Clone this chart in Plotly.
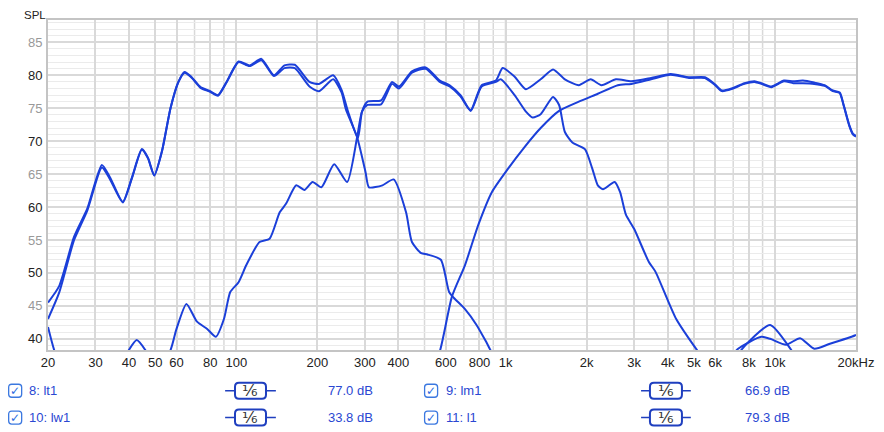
import plotly.graph_objects as go

# page body adds an 8px offset, so the figure is 8px smaller and shifted back
OFF = 8
W, H = 884 - OFF, 432 - OFF
L, R, T, B = 48 - OFF, 24, 18 - OFF, 82

# total response (l1)
l1_f = [20, 22, 25, 28, 31.7, 34, 37.9, 41, 44.6, 47, 49.6, 53, 57, 61, 64.3, 68, 73.7, 80, 85.5, 92,
        102, 112, 124, 138, 151, 165, 187, 203, 229, 246, 260, 283, 293, 307, 345, 379, 402, 449, 505,
        570, 620, 680, 742, 815, 920, 975, 1080, 1190, 1350, 1500, 1660, 1870, 2070, 2270, 2570, 2930,
        3470, 4100, 4800, 5500, 6000, 6350, 6900, 7700, 8400, 8900, 9700, 10800, 11700, 12700, 14000,
        15300, 16400, 17400, 18000, 18900, 19500, 20000]
l1_db = [45.5, 48, 55.5, 59.8, 66.4, 64.5, 60.8, 64.5, 68.8, 67.5, 64.8, 68.5, 75, 79, 80.5, 79.8, 78.2, 77.6, 77.0, 79,
         82.1, 81.5, 82.5, 80, 81.5, 81.6, 79, 78.7, 80, 77.8, 74.5, 70.5, 74.5, 76, 76.2, 79, 78.3, 80.6, 81.2,
         79.2, 78.5, 77, 74.7, 78.5, 79.2, 81.1, 79.8, 77.9, 79.4, 80.9, 79.4, 78.5, 79.4, 78.5, 79.4, 79.1,
         79.6, 80.2, 79.7, 79.7, 78.6, 77.7, 78, 78.8, 79.1, 78.8, 78.3, 79.2, 79.1, 79.2, 78.9,
         78.5, 77.7, 77.4, 75.5, 72.4, 71.1, 70.8]

# woofer (lw1)
lw1_f = [20, 22, 25, 28, 31.7, 34, 37.9, 41, 44.6, 47, 49.6, 53, 57, 61, 64.3, 68, 73.7, 80, 85.5, 92,
         102, 112, 124, 138, 151, 165, 187, 203, 229, 246, 255, 281, 302, 311, 349, 384, 427, 449, 486,
         513, 575, 617, 643, 707, 780, 848, 900, 1000, 2000, 5000, 6500, 7300, 8900, 9600, 11000, 12400,
         14000, 15900, 19800, 20000]
lw1_db = [43, 47, 55, 59.5, 66.0, 64.2, 60.7, 64.4, 68.7, 67.4, 64.8, 68.5, 75, 79, 80.4, 79.7, 78.1, 77.5, 76.9, 78.9,
          82.0, 81.4, 82.3, 79.9, 81.1, 81.1, 78.3, 77.6, 79.4, 77.4, 74.9, 70.6, 65.3, 63, 63.3, 64.2, 59.2, 54.7, 53,
          52.8, 52, 47.1, 46.2, 44.5, 42.1, 39.5, 37.5, 35, 30, 32, 36, 38.5, 40.3, 40, 39.1, 40.1,
          38.5, 39.2, 40.5, 40.6]

# mid (lm1)
lm1_f = [20, 21.2, 23, 30, 38, 42.7, 46.5, 50, 56.6, 60, 65.3, 71.5, 78, 84, 90, 95, 102, 109, 122, 133,
         145, 153, 167, 179, 192, 207, 231, 258, 281, 293, 307, 345, 379, 402, 449, 505, 570, 620, 680,
         742, 815, 920, 960, 1080, 1190, 1260, 1350, 1500, 1580, 1660, 1770, 1970, 2100, 2200, 2300, 2540,
         2660, 2800, 3000, 3400, 3600, 4300, 5200, 6000, 7000, 7500, 9600, 11500, 12500]
lm1_db = [41.8, 38, 35, 33, 37, 39.8, 38, 36, 38, 41.5, 45.3, 42.6, 41.5, 40.3, 43, 47.1, 48.6, 51.2, 54.7, 55.2,
          59.2, 60.5, 63.3, 62.6, 63.8, 63, 66.5, 63.8, 70.6, 74.5, 75.5, 75.6, 78.7, 78, 80.4, 81, 79, 78.3, 76.8,
          74.6, 78.3, 79, 79.4, 77, 74.5, 73.6, 74.1, 76.7, 75.5, 71.4, 69.8, 68.8, 65.8, 63.3, 62.7, 63.8,
          62.3, 58.8, 56.7, 51.7, 50.2, 43, 38, 35, 36, 38.3, 42.1, 38.3, 36]

# tweeter (lt1)
lt1_f = [500, 569, 632, 707, 792, 890, 1020, 1170, 1350, 1580, 1870, 2200, 2610, 2930, 3470, 4100,
         4800, 5500, 6000, 6350, 6900, 7700, 8400, 8900, 9700, 10800, 11700, 12700, 14000, 15300, 16400,
         17400, 18000, 18900, 19500, 20000]
lt1_db = [33, 38, 46.4, 51.2, 57.3, 62.3, 65.8, 69, 72, 74.6, 76, 77.2, 78.5, 78.7, 79.4, 80.1,
          79.6, 79.6, 78.5, 77.6, 77.9, 78.7, 79.0, 78.7, 78.2, 79.1, 78.8, 78.8, 78.7, 78.4, 77.6,
          77.3, 75.4, 72.3, 71.0, 70.7]

series = [(l1_f, l1_db), (lw1_f, lw1_db), (lm1_f, lm1_db), (lt1_f, lt1_db)]

tick_f = [20, 30, 40, 50, 60, 80, 100, 200, 300, 400, 600, 800, 1000, 2000, 3000, 4000, 5000, 6000,
          8000, 10000, 20000]
tick_txt = ['20', '30', '40', '50', '60', '80', '100', '200', '300', '400', '600', '800', '1k', '2k', '3k',
            '4k', '5k', '6k', '8k', '10k', '20kHz']
extra_grid_f = [70, 90, 500, 700, 900, 7000, 9000]
decades = [100, 1000, 10000]
y_ticks = [40, 45, 50, 55, 60, 65, 70, 75, 80, 85]

legend_rows = [
    ('8: lt1', '77.0 dB', '9: lm1', '66.9 dB'),
    ('10: lw1', '33.8 dB', '11: l1', '79.3 dB'),
]

BLUE = '#1b3fd9'
TXT_BLUE = '#2a47d2'

fig = go.Figure()
for f, db in series:
    fig.add_trace(go.Scatter(x=f, y=db, mode='lines', line=dict(color=BLUE, width=2, shape='spline', smoothing=0.6),
                             hoverinfo='skip', showlegend=False))

fig.update_layout(
    width=W, height=H, margin=dict(l=L, r=R, t=T, b=B),
    paper_bgcolor='white', plot_bgcolor='white',
    font=dict(family='Liberation Sans, Arial, sans-serif', size=13, color='#222'),
    xaxis=dict(type='log', range=[1.30103, 4.30103], tickvals=tick_f, ticktext=tick_txt,
               showgrid=True, gridcolor='#d9d9d9', gridwidth=1.5, zeroline=False,
               showline=True, mirror=True, linecolor='#c4c4c4', linewidth=1.5, ticks=''),
    yaxis=dict(range=[38.3, 88.4], tickvals=y_ticks, showticklabels=False,
               showgrid=True, gridcolor='#d9d9d9', gridwidth=1.5, zeroline=False,
               minor=dict(dtick=1, showgrid=True, gridcolor='#ebebeb', gridwidth=1),
               showline=True, mirror=True, linecolor='#c4c4c4', linewidth=1.5, ticks=''),
)

# y tick labels: tens dark, fives grey
for v in y_ticks:
    fig.add_annotation(text=str(v), xref='paper', yref='y', x=0, y=v, xshift=-4, showarrow=False,
                       xanchor='right', yanchor='middle',
                       font=dict(size=13, color='#222' if v % 10 == 0 else '#999'))

for d in extra_grid_f:
    fig.add_shape(type='line', xref='x', yref='paper', x0=d, x1=d, y0=0, y1=1,
                  line=dict(color='#d9d9d9', width=1.5), layer='below')
for d in decades:
    fig.add_shape(type='line', xref='x', yref='paper', x0=d, x1=d, y0=0, y1=1,
                  line=dict(color='#b8b8b8', width=1.5), layer='below')


# helpers: positions given in pixels of the 884x432 reference
def px(x):
    return (x - OFF - L) / (W - L - R)


def py(y):
    return (H - B - (y - OFF)) / (H - T - B)


fig.add_annotation(text='SPL', xref='paper', yref='paper', x=px(22), y=py(13),
                   showarrow=False, xanchor='left', yanchor='middle', font=dict(size=11.5, color='#222'))


def rrect(w, h, r):
    x0, x1, y0, y1 = -w / 2, w / 2, -h / 2, h / 2
    return (f'M {x0 + r},{y0} L {x1 - r},{y0} Q {x1},{y0} {x1},{y0 + r} L {x1},{y1 - r} '
            f'Q {x1},{y1} {x1 - r},{y1} L {x0 + r},{y1} Q {x0},{y1} {x0},{y1 - r} '
            f'L {x0},{y0 + r} Q {x0},{y0} {x0 + r},{y0} Z')


def checkbox(cx, cy):
    fig.add_shape(type='path', xref='paper', yref='paper', xsizemode='pixel', ysizemode='pixel',
                  xanchor=px(cx), yanchor=py(cy), path=rrect(13, 13, 3),
                  line=dict(color='#3b78e0', width=1.3), fillcolor='white')
    fig.add_annotation(text='✓', xref='paper', yref='paper', x=px(cx), y=py(cy), showarrow=False,
                       font=dict(size=12, color='#2b6be0', family='DejaVu Sans'), xanchor='center', yanchor='middle')


def smooth_box(x0, x1, b0, b1, cy):
    fig.add_shape(type='line', xref='paper', yref='paper', x0=px(x0), x1=px(x1), y0=py(cy), y1=py(cy),
                  line=dict(color='#1f3fbf', width=1.5))
    fig.add_shape(type='path', xref='paper', yref='paper', xsizemode='pixel', ysizemode='pixel',
                  xanchor=px((b0 + b1) / 2), yanchor=py(cy), path=rrect(b1 - b0, 16, 4),
                  line=dict(color='#1f3fbf', width=2), fillcolor='white')
    fig.add_annotation(text='¹⁄₆', xref='paper', yref='paper', x=px((b0 + b1) / 2), y=py(cy),
                       showarrow=False, font=dict(size=16, color='#333', family='DejaVu Sans'),
                       xanchor='center', yanchor='middle')


row_y = [391, 418]
for (n1, v1, n2, v2), cy in zip(legend_rows, row_y):
    checkbox(15, cy)
    fig.add_annotation(text=n1, xref='paper', yref='paper', x=px(27), y=py(cy), showarrow=False,
                       xanchor='left', yanchor='middle', font=dict(size=13, color=TXT_BLUE))
    smooth_box(226, 277, 236, 267, cy)
    fig.add_annotation(text=v1, xref='paper', yref='paper', x=px(327), y=py(cy), showarrow=False,
                       xanchor='left', yanchor='middle', font=dict(size=13, color=TXT_BLUE))
    checkbox(433, cy)
    fig.add_annotation(text=n2, xref='paper', yref='paper', x=px(446), y=py(cy), showarrow=False,
                       xanchor='left', yanchor='middle', font=dict(size=13, color=TXT_BLUE))
    smooth_box(644, 694, 653, 685, cy)
    fig.add_annotation(text=v2, xref='paper', yref='paper', x=px(746), y=py(cy), showarrow=False,
                       xanchor='left', yanchor='middle', font=dict(size=13, color=TXT_BLUE))

fig.write_html('out.html')
